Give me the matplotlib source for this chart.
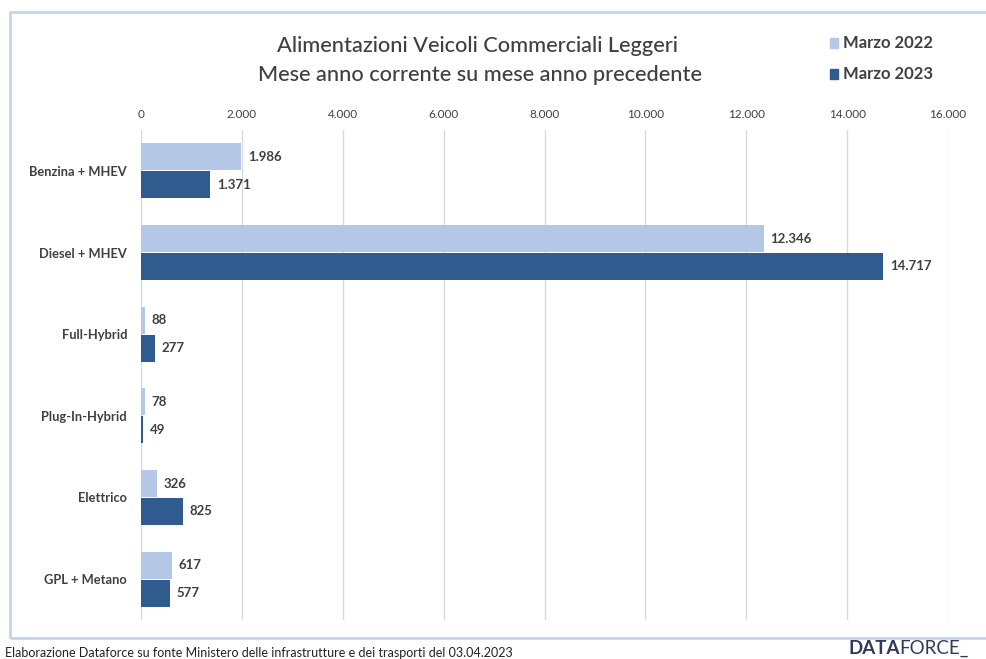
import matplotlib
matplotlib.use("Agg")
import matplotlib.pyplot as plt
from matplotlib.patches import Rectangle
import numpy as np

categories = ["Benzina + MHEV", "Diesel + MHEV", "Full-Hybrid", "Plug-In-Hybrid", "Elettrico", "GPL + Metano"]
marzo_2022 = [1986, 12346, 88, 78, 326, 617]
marzo_2023 = [1371, 14717, 277, 49, 825, 577]
series_names = ["Marzo 2022", "Marzo 2023"]
xticks = [0, 2000, 4000, 6000, 8000, 10000, 12000, 14000, 16000]

def fmt(v):
    return f"{v:,}".replace(",", ".")

plt.rcParams['font.family'] = ['Lato', 'DejaVu Sans']
c_light = "#b4c7e7"
c_dark = "#2f5b8f"
txt = "#404040"

fig = plt.figure(figsize=(9.86, 6.59), dpi=100)
ax = fig.add_axes([141/986, 1-620/659, (948-141)/986, (620-130)/659])

y = np.arange(len(categories))
h = 0.33
ax.barh(y - 0.17, marzo_2022, height=h, color=c_light, zorder=3)
ax.barh(y + 0.17, marzo_2023, height=h, color=c_dark, zorder=3)
for yi, v in zip(y, marzo_2022):
    ax.text(v + 130, yi - 0.17, fmt(v), va="center", ha="left", fontsize=9.5, fontweight="bold", color=txt)
for yi, v in zip(y, marzo_2023):
    ax.text(v + 130, yi + 0.17, fmt(v), va="center", ha="left", fontsize=9.5, fontweight="bold", color=txt)

ax.set_xlim(0, 16000)
ax.set_ylim(len(categories) - 0.5, -0.5)
ax.set_yticks(y)
ax.set_yticklabels(categories, fontsize=9.3, fontweight="bold", color=txt)
ax.set_xticks(xticks)
ax.set_xticklabels([fmt(t) for t in xticks], fontsize=8.5, color=txt)
ax.xaxis.tick_top()
ax.tick_params(axis="both", length=0)
ax.tick_params(axis="x", pad=7)
ax.tick_params(axis="y", pad=10)
ax.grid(axis="x", color="#d9d9d9", linewidth=1, zorder=0)
for s in ax.spines.values():
    s.set_visible(False)

# frame
fig.patches.append(Rectangle((10/986, 1-638/659), 990/986, (638-12)/659, transform=fig.transFigure,
                             fill=False, edgecolor="#c5d5ea", linewidth=2))

fig.text(477/986, 1-46/659, "Alimentazioni Veicoli Commerciali Leggeri", ha="center", va="center",
         fontsize=15.7, fontweight="medium", color=txt)
fig.text(480/986, 1-75/659, "Mese anno corrente su mese anno precedente", ha="center", va="center",
         fontsize=15.7, fontweight="medium", color=txt)

# legend
for name, col, yy in zip(series_names, [c_light, c_dark], [43, 74]):
    fig.patches.append(Rectangle((830/986, 1-(yy+5)/659), 8/986, 10/659, transform=fig.transFigure,
                                 color=col))
    fig.text(843/986, 1-yy/659, name, ha="left", va="center", fontsize=12, fontweight="bold", color=txt)

fig.text(5/986, 1-653/659, "Elaborazione Dataforce su fonte Ministero delle infrastrutture e dei trasporti del 03.04.2023",
         ha="left", va="center", fontsize=9, color="#222222")
t1 = fig.text(848/986, 1-648/659, "DATA", ha="left", va="center", fontsize=13.5, fontweight="bold", color="#2d3a5a")
fig.canvas.draw()
bb = t1.get_window_extent()
fig.text(bb.x1 / fig.bbox.width, 1-648/659, "FORCE_", ha="left", va="center", fontsize=13.5, color="#2d3a5a")

fig.savefig("out.png", dpi=100)
